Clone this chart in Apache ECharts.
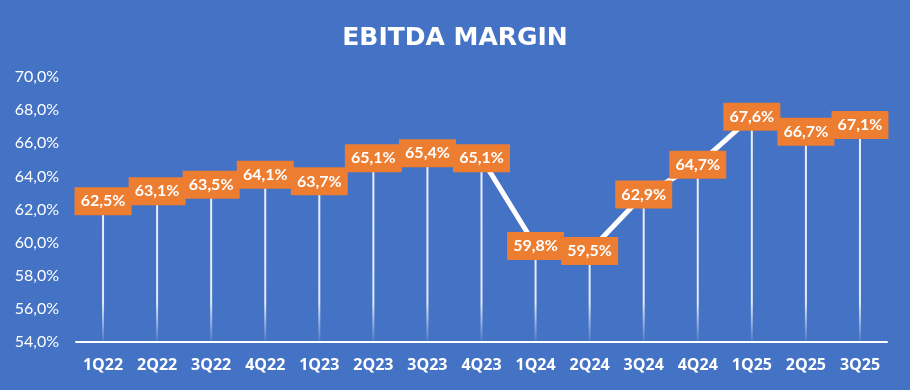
<!DOCTYPE html>
<html>
<head>
<meta charset="utf-8">
<script src="https://cdn.jsdelivr.net/npm/echarts@6/dist/echarts.min.js"></script>
<style>
html,body{margin:0;padding:0;background:#4472C4;}
#c{width:910px;height:390px;}
</style>
</head>
<body>
<div id="c"></div>
<script>
const titleText = 'EBITDA MARGIN';
const categories = ['1Q22','2Q22','3Q22','4Q22','1Q23','2Q23','3Q23','4Q23','1Q24','2Q24','3Q24','4Q24','1Q25','2Q25','3Q25'];
const margins = [62.5, 63.1, 63.5, 64.1, 63.7, 65.1, 65.4, 65.1, 59.8, 59.5, 62.9, 64.7, 67.6, 66.7, 67.1];
const yMin = 54, yMax = 70, yStep = 2;

const fmt = v => v.toFixed(1).replace('.', ',') + '%';
const chart = echarts.init(document.getElementById('c'), null, {renderer:'canvas'});
chart.setOption({
  backgroundColor: '#4472C4',
  animation: false,
  title: {
    text: titleText, left: 'center', top: 21,
    textStyle: {color:'#fff', fontFamily:'DejaVu Sans', fontWeight:'bold', fontSize:25}
  },
  grid: {left:76, right:23, top:77, bottom:48, containLabel:false},
  xAxis: {
    type:'category', data: categories, boundaryGap:true,
    axisLine:{show:true, lineStyle:{color:'#fff', width:2}},
    axisTick:{show:false},
    axisLabel:{color:'#fff', fontFamily:'Open Sans', fontWeight:'bold', fontSize:16, margin:15}
  },
  yAxis: {
    type:'value', min:yMin, max:yMax, interval:yStep,
    axisLine:{show:false}, axisTick:{show:false}, splitLine:{show:false},
    axisLabel:{color:'#fff', fontFamily:'Lato', fontSize:16, margin:17, formatter: v => fmt(v)}
  },
  series: [
    {
      type:'bar', data: margins, barWidth:2, silent:true,
      itemStyle:{color:{type:'linear', global:true, x:0, y:77, x2:0, y2:342,
        colorStops:[{offset:0,color:'rgba(255,255,255,0.9)'},{offset:0.85,color:'rgba(255,255,255,0.85)'},{offset:1,color:'rgba(255,255,255,0.05)'}]}}
    },
    {
      type:'line', data: margins, symbol:'circle', symbolSize:1, showSymbol:true,
      itemStyle:{color:'#fff'},
      lineStyle:{color:'#fff', width:5},
      label:{
        show:true, position:'inside', formatter: p => fmt(p.value),
        backgroundColor:'#ED7D31', color:'#fff', fontFamily:'Lato', fontWeight:'bold', fontSize:16,
        width:43, height:16, lineHeight:16, align:'center', verticalAlign:'middle', padding:[6,7]
      },
      labelLayout:{hideOverlap:false}
    }
  ]
});
</script>
</body>
</html>
